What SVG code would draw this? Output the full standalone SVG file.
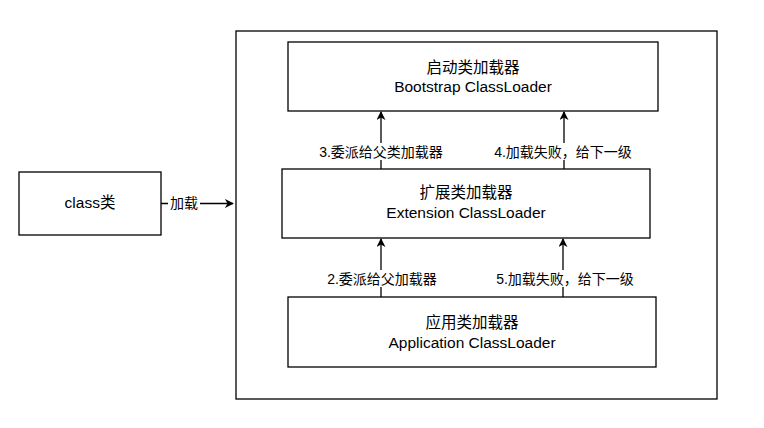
<svg xmlns="http://www.w3.org/2000/svg" width="764" height="428" viewBox="0 0 764 428">
<style>
.box{fill:#fff;stroke:#000;stroke-width:1.3}
.t{font-family:"Liberation Sans","Noto Sans CJK SC",sans-serif;font-size:15.5px;fill:#000;text-anchor:middle}
.l{font-family:"Liberation Sans","Noto Sans CJK SC",sans-serif;font-size:14px;fill:#000;text-anchor:middle}
.e{stroke:#000;stroke-width:1.3;fill:none;marker-end:url(#a)}
.bg{fill:#fff}
</style>
<defs>
<marker id="a" viewBox="0 0 10 10" refX="9" refY="5" markerWidth="9" markerHeight="9" markerUnits="userSpaceOnUse" orient="auto">
<path d="M0,0 L10,5 L0,10 L3,5 Z" fill="#000"/>
</marker>
</defs>
<rect width="764" height="428" fill="#fff"/>
<g id="container"><rect class="box" x="236" y="31" width="481" height="368"/></g>
<g id="class"><rect class="box" x="19" y="172" width="142" height="63"/><text class="t" x="90" y="208">class类</text></g>
<g id="bootstrap"><rect class="box" x="288" y="42" width="370" height="69"/><text class="t" x="473" y="73">启动类加载器</text><text class="t" x="473" y="92">Bootstrap ClassLoader</text></g>
<g id="extension"><rect class="box" x="282" y="169" width="368" height="69"/><text class="t" x="466" y="198">扩展类加载器</text><text class="t" x="466" y="218">Extension ClassLoader</text></g>
<g id="application"><rect class="box" x="288" y="297" width="368" height="70"/><text class="t" x="472" y="328">应用类加载器</text><text class="t" x="472" y="348">Application ClassLoader</text></g>
<g id="connectors">
<path class="e" d="M161,203.5 L233,203.5"/>
<rect class="bg" x="168" y="195" width="32" height="17"/>
<text class="l" x="184" y="208">加载</text>
<path class="e" d="M381,169 L381,112"/>
<rect class="bg" x="317" y="143" width="128" height="17"/>
<text class="l" x="381" y="157">3.委派给父类加载器</text>
<path class="e" d="M564,169 L564,112"/>
<rect class="bg" x="493" y="143" width="141" height="17"/>
<text class="l" x="563" y="157">4.加载失败，给下一级</text>
<path class="e" d="M381,297 L381,239"/>
<rect class="bg" x="326" y="270" width="112" height="17"/>
<text class="l" x="382" y="284">2.委派给父加载器</text>
<path class="e" d="M563,297 L563,239"/>
<rect class="bg" x="495" y="270" width="141" height="17"/>
<text class="l" x="565" y="284">5.加载失败，给下一级</text>
</g>
</svg>
